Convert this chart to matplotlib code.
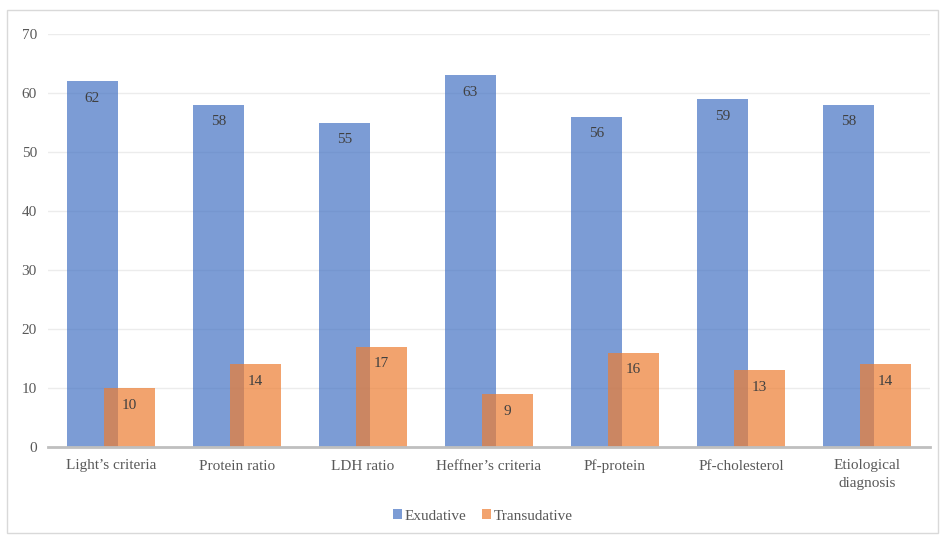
import numpy as np
import matplotlib.pyplot as plt
from matplotlib.patches import Rectangle

plt.rcParams['font.family'] = ['Liberation Serif', 'DejaVu Serif']

categories = ['Light’s criteria', 'Protein ratio', 'LDH ratio', 'Heffner’s criteria',
              'Pf-protein', 'Pf-cholesterol', 'Etiological\ndiagnosis']
exudative = [62, 58, 55, 63, 56, 59, 58]
transudative = [10, 14, 17, 9, 16, 13, 14]

fig = plt.figure(figsize=(9.4, 5.35), dpi=100)
ax = fig.add_axes([48 / 940, 1 - 447 / 535, 882 / 940, 413 / 535])

# light frame round the whole chart
fig.patches.append(Rectangle((7 / 940, 2 / 535), 931 / 940, 523 / 535,
                             transform=fig.transFigure, fill=False,
                             edgecolor='#d9d9d9', linewidth=1))

x = np.arange(len(categories))
w = 0.40
off = 0.147

b1 = ax.bar(x - off, exudative, w, color='#4472c4', alpha=0.7, label='Exudative', zorder=2)
b2 = ax.bar(x + off, transudative, w, color='#ed7d31', alpha=0.7, label='Transudative', zorder=3)

for bars in (b1, b2):
    for rect in bars:
        h = rect.get_height()
        ax.text(rect.get_x() + rect.get_width() / 2, h - 2.9, f'{h:.0f}',
                ha='center', va='center', fontsize=11, color='#404040', zorder=5)

ax.set_xlim(-0.5, len(categories) - 0.5)
ax.set_ylim(0, 70)
ax.set_yticks(range(0, 71, 10))
ax.set_xticks(x)
ax.set_xticklabels(categories, fontsize=11, color='#595959', linespacing=1.4)
ax.tick_params(axis='y', labelsize=11, labelcolor='#595959', length=0, pad=8)
ax.tick_params(axis='x', length=0, pad=9)
ax.grid(axis='y', color='#ececec', linewidth=1, zorder=1)
ax.set_axisbelow(True)

for s in ('top', 'right', 'left'):
    ax.spines[s].set_visible(False)
ax.spines['bottom'].set_color('#bfbfbf')
ax.spines['bottom'].set_linewidth(2)
ax.spines['bottom'].set_zorder(4)

ax.legend(loc='center', bbox_to_anchor=(483 / 940, 1 - 516 / 535),
          bbox_transform=fig.transFigure, ncol=2, frameon=False,
          fontsize=11, labelcolor='#595959', handlelength=0.6, handleheight=0.6,
          handletextpad=0.2, columnspacing=1.0)

fig.savefig('out.png', dpi=100)
